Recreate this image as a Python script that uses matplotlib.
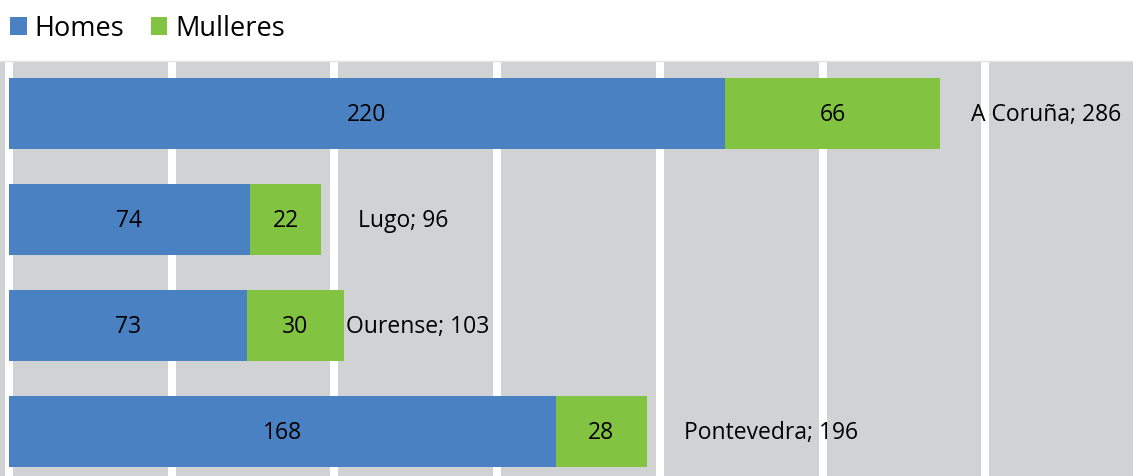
import matplotlib
matplotlib.use("Agg")
import matplotlib.pyplot as plt

plt.rcParams['font.family'] = ['Open Sans', 'DejaVu Sans']

provinces = ["A Coruña", "Lugo", "Ourense", "Pontevedra"]
homes = [220, 74, 73, 168]
mulleres = [66, 22, 30, 28]
series_names = ["Homes", "Mulleres"]
label_offsets_px = [31, 37, 2, 37]

BLUE = "#4A81C2"
GREEN = "#82C341"
GREY = "#D1D2D4"

W, H, DPI = 1133, 477, 100
fig = plt.figure(figsize=(W / DPI, H / DPI), dpi=DPI)
ax = fig.add_axes([0, 0, 1, 1 - 62 / H])
ax.set_facecolor(GREY)

ypos = list(range(len(provinces)))
totals = [h + m for h, m in zip(homes, mulleres)]

b1 = ax.barh(ypos, homes, height=0.67, color=BLUE, label=series_names[0], zorder=2)
b2 = ax.barh(ypos, mulleres, left=homes, height=0.67, color=GREEN, label=series_names[1], zorder=2)

for bars, vals, lefts in ((b1, homes, [0] * 4), (b2, mulleres, homes)):
    for y, v, l in zip(ypos, vals, lefts):
        ax.text(l + v / 2, y, str(v), ha="center", va="center", fontsize=16.5,
                color="black", zorder=4)

for y, name, t, off in zip(ypos, provinces, totals, label_offsets_px):
    ax.annotate(f"{name}; {t}", xy=(t, y), xytext=(off * 72 / DPI, 0),
                textcoords="offset points", ha="left", va="center",
                fontsize=16.5, color="black", zorder=4)

ax.set_xticks(range(0, 351, 50))
ax.set_xlim(-9 / 3.2545, 1124 / 3.2545)
ax.set_ylim(3.42, -0.5)
ax.grid(axis="x", color="white", linewidth=8 * 72 / DPI, zorder=1)
ax.set_axisbelow(True)
ax.tick_params(left=False, bottom=False, labelleft=False, labelbottom=False)
for s in ("left", "right", "bottom"):
    ax.spines[s].set_visible(False)
ax.spines["top"].set_color("#E4E4E4")
ax.spines["top"].set_linewidth(1)

fs = 19.5
fig.legend(handles=[b1, b2], loc="upper left", bbox_to_anchor=(5 / W, 1 - 10 / H),
           ncol=2, frameon=False, fontsize=fs, handlelength=0.61, handleheight=0.61,
           handletextpad=0.29, columnspacing=0.97, borderaxespad=0, borderpad=0.2)

fig.savefig("out.png", dpi=DPI)
